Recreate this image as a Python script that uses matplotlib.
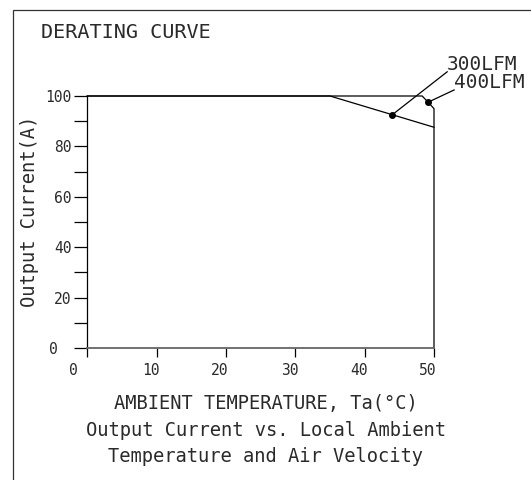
import matplotlib.pyplot as plt
import matplotlib.transforms as mtransforms
from matplotlib.patches import Rectangle

# --- datos ---
temp_400 = [0, 48.3, 50, 50]
curr_400 = [100, 100, 95, 0]
temp_300 = [0, 35, 50]
curr_300 = [100, 100, 87.6]

# puntos marcados y donde terminan las lineas guia
etiquetas = ['300LFM', '400LFM']
punto_x = [44.0, 49.2]
punto_y = [92.6, 97.6]
guia_x = [51.9, 52.9]
guia_y = [109.6, 102.4]

x_ticks = [0, 10, 20, 30, 40, 50]
y_ticks = [0, 20, 40, 60, 80, 100]
y_minor = [10, 30, 50, 70, 90]

# fuente monoespaciada: se parece mas a la letra de CAD del original
FUENTE = 'DejaVu Sans Mono'
TXT = dict(family=FUENTE, fontsize=13.5, color='#2a2a2a')

fig = plt.figure(figsize=(5.31, 4.80), dpi=100)
ax = fig.add_axes([87.3 / 531, 1 - 348 / 480, (434 - 87.3) / 531, (348 - 96) / 480])

# marco de la figura (solo se ven el borde izquierdo y superior)
fig.patches.append(Rectangle((13 / 531, -0.1), 1.2, 1.1 - 10 / 480,
                             transform=fig.transFigure, fill=False,
                             edgecolor='#333333', lw=0.9))

ax.plot(temp_400, curr_400, color='black', lw=0.9, clip_on=False)
ax.plot(temp_300, curr_300, color='black', lw=0.9, clip_on=False)

for i, txt in enumerate(etiquetas):
    ax.plot([punto_x[i], guia_x[i]], [punto_y[i], guia_y[i]], color='black',
            lw=0.9, clip_on=False)
    ax.plot(punto_x[i], punto_y[i], 'o', color='black', ms=4, clip_on=False)
    ax.text(guia_x[i], guia_y[i] - 1, txt, ha='left', va='bottom',
            **{**TXT, 'fontsize': 14})

ax.set_xlim(0, 50)
ax.set_ylim(0, 100)
ax.spines['top'].set_visible(False)
ax.spines['right'].set_visible(False)
ax.spines['left'].set_linewidth(0.9)
ax.spines['bottom'].set_linewidth(1.3)
ax.spines['bottom'].set_color('#666666')

ax.set_xticks(x_ticks)
ax.set_yticks(y_ticks)
ax.set_yticks(y_minor, minor=True)
ax.tick_params(axis='x', direction='out', length=6.5, width=0.9, pad=4,
               labelsize=10.5, labelcolor='#2a2a2a')
ax.tick_params(axis='y', which='both', direction='out', length=9.4, width=0.9,
               pad=2, labelsize=10.5, labelcolor='#2a2a2a')

for lbl in ax.get_xticklabels() + ax.get_yticklabels():
    lbl.set_family(FUENTE)

# desplazamiento de las etiquetas como en el original
for lbl in ax.get_xticklabels():
    dx = -14 if lbl.get_text() == '0' else -6
    lbl.set_transform(lbl.get_transform() +
                      mtransforms.ScaledTranslation(dx / 100, 0, fig.dpi_scale_trans))
for lbl in ax.get_yticklabels():
    if lbl.get_text() == '0':
        lbl.set_transform(lbl.get_transform() +
                          mtransforms.ScaledTranslation(-14 / 100, 0, fig.dpi_scale_trans))

fig.text(30 / 531, 1 - 211 / 480, 'Output Current(A)', rotation=90, ha='center',
         va='center', **TXT)
fig.text(41 / 531, 1 - 33 / 480, 'DERATING CURVE', ha='left', va='center',
         **{**TXT, 'fontsize': 14.5})

lineas = ['AMBIENT TEMPERATURE, Ta(°C)',
          'Output Current vs. Local Ambient',
          'Temperature and Air Velocity']
for j, t in enumerate(lineas):
    fig.text(266 / 531, 1 - (403 + 27 * j) / 480, t, ha='center', va='center', **TXT)

fig.savefig('out.png', dpi=100)
